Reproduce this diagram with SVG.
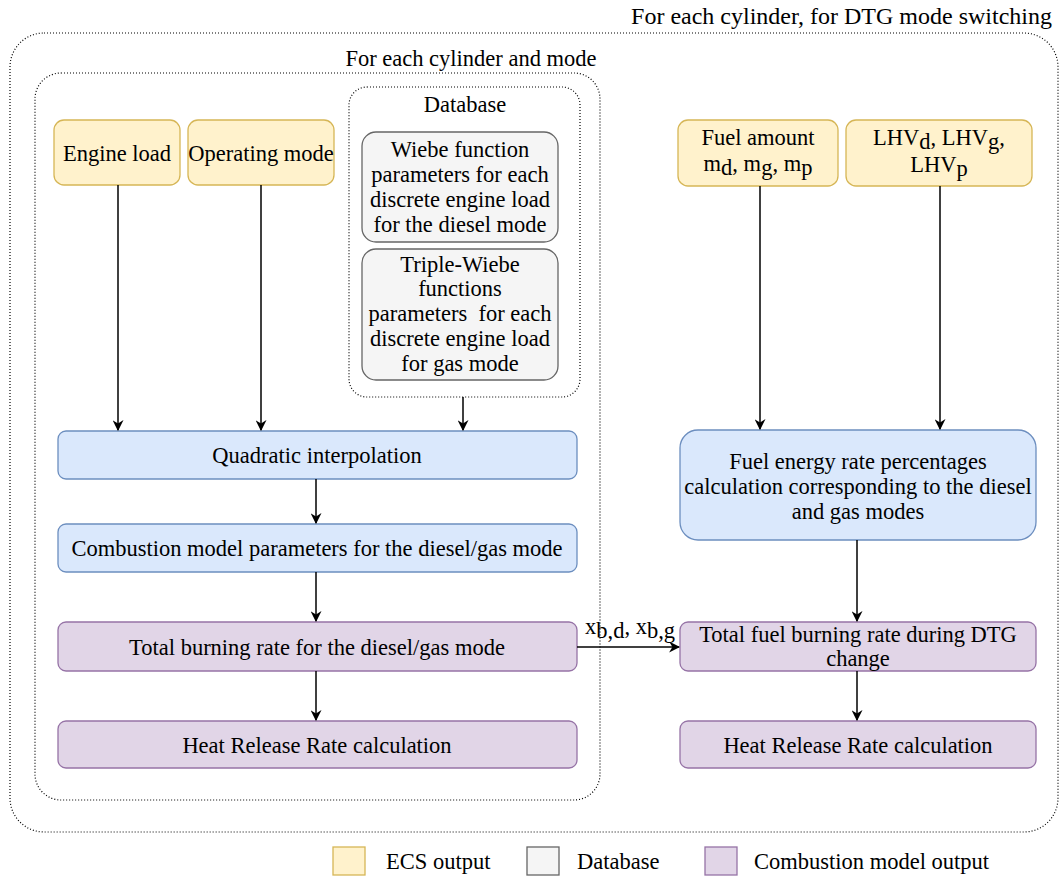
<svg xmlns="http://www.w3.org/2000/svg" width="1061" height="879" viewBox="0 0 1061 879">
  <style>
    text { font-family: "Liberation Serif", "Times New Roman", serif; font-size: 22.5px; fill: #000; }
    .c { text-anchor: middle; }
    .ecs { fill: #fff2cc; stroke: #d6b656; stroke-width: 1.3; }
    .db { fill: #f5f5f5; stroke: #666666; stroke-width: 1.3; }
    .proc { fill: #dae8fc; stroke: #6c8ebf; stroke-width: 1.3; }
    .comb { fill: #e1d5e7; stroke: #9673a6; stroke-width: 1.3; }
    .frame { fill: none; stroke: #000; stroke-width: 1.2; stroke-dasharray: 1 2; }
    .edge { fill: none; stroke: #000; stroke-width: 1.5; marker-end: url(#arrow); }
  </style>
  <defs>
    <marker id="arrow" viewBox="0 0 10 10" refX="9" refY="5" markerWidth="11" markerHeight="11" markerUnits="userSpaceOnUse" orient="auto">
      <path d="M0,0 L10,5 L0,10 L3,5 Z" fill="#000"/>
    </marker>
  </defs>

  <rect width="1061" height="879" fill="#fff"/>

  <!-- loop frames -->
  <g id="frame-dtg">
    <rect class="frame" x="10" y="33" width="1048" height="799" rx="34"/>
    <text x="1052" y="24" text-anchor="end" style="font-size:24px">For each cylinder, for DTG mode switching</text>
  </g>
  <g id="frame-mode">
    <rect class="frame" x="35" y="73" width="565" height="727" rx="26"/>
    <text x="471" y="66" class="c">For each cylinder and mode</text>
  </g>
  <g id="frame-database">
    <rect class="frame" x="349" y="87" width="231" height="310" rx="18"/>
    <text x="465" y="112" class="c">Database</text>
  </g>

  <!-- inputs -->
  <g id="engine-load">
    <rect class="ecs" x="54" y="120" width="126" height="65" rx="10"/>
    <text x="117" y="161" class="c">Engine load</text>
  </g>
  <g id="operating-mode">
    <rect class="ecs" x="188" y="120" width="146" height="65" rx="10"/>
    <text x="261" y="161" class="c">Operating mode</text>
  </g>
  <g id="wiebe-diesel">
    <rect class="db" x="362" y="132" width="196" height="110" rx="14"/>
    <text x="460" y="157" class="c">Wiebe function</text>
    <text x="460" y="182" class="c">parameters for each</text>
    <text x="460" y="207" class="c">discrete engine load</text>
    <text x="460" y="232" class="c">for the diesel mode</text>
  </g>
  <g id="wiebe-gas">
    <rect class="db" x="362" y="249" width="196" height="131" rx="14"/>
    <text x="460" y="272" class="c">Triple-Wiebe</text>
    <text x="460" y="296" class="c">functions</text>
    <text x="460" y="321" class="c" xml:space="preserve">parameters  for each</text>
    <text x="460" y="346" class="c">discrete engine load</text>
    <text x="460" y="371" class="c">for gas mode</text>
  </g>
  <g id="fuel-amount">
    <rect class="ecs" x="678" y="120" width="160" height="66" rx="10"/>
    <text x="758" y="145" class="c">Fuel amount</text>
    <text x="758" y="171" class="c">m<tspan dy="4">d</tspan><tspan dy="-4">, m</tspan><tspan dy="4">g</tspan><tspan dy="-4">, m</tspan><tspan dy="4">p</tspan></text>
  </g>
  <g id="lhv">
    <rect class="ecs" x="846" y="120" width="186" height="66" rx="10"/>
    <text x="939" y="145" class="c">LHV<tspan dy="4">d</tspan><tspan dy="-4">, LHV</tspan><tspan dy="4">g</tspan><tspan dy="-4">,</tspan></text>
    <text x="939" y="172" class="c">LHV<tspan dy="4">p</tspan></text>
  </g>

  <!-- per-mode chain -->
  <g id="quadratic-interpolation">
    <rect class="proc" x="58" y="431" width="519" height="48" rx="8"/>
    <text x="317" y="463" class="c">Quadratic interpolation</text>
  </g>
  <g id="combustion-parameters">
    <rect class="proc" x="58" y="524" width="519" height="48" rx="8"/>
    <text x="317" y="556" class="c">Combustion model parameters for the diesel/gas mode</text>
  </g>
  <g id="total-burning-rate">
    <rect class="comb" x="58" y="622" width="519" height="49" rx="8"/>
    <text x="317" y="655" class="c">Total burning rate for the diesel/gas mode</text>
  </g>
  <g id="heat-release-mode">
    <rect class="comb" x="58" y="721" width="519" height="47" rx="8"/>
    <text x="317" y="753" class="c">Heat Release Rate calculation</text>
  </g>

  <!-- DTG switching chain -->
  <g id="fuel-energy-rate">
    <rect class="proc" x="680" y="430" width="356" height="110" rx="18"/>
    <text x="858" y="469" class="c">Fuel energy rate percentages</text>
    <text x="858" y="494" class="c">calculation corresponding to the diesel</text>
    <text x="858" y="519" class="c">and gas modes</text>
  </g>
  <g id="total-fuel-burning-dtg">
    <rect class="comb" x="680" y="622" width="356" height="49" rx="8"/>
    <text x="858" y="642" class="c">Total fuel burning rate during DTG</text>
    <text x="858" y="666" class="c">change</text>
  </g>
  <g id="heat-release-dtg">
    <rect class="comb" x="680" y="721" width="356" height="47" rx="8"/>
    <text x="858" y="753" class="c">Heat Release Rate calculation</text>
  </g>

  <!-- connectors -->
  <g id="connectors">
    <path class="edge" d="M118,185 V430"/>
    <path class="edge" d="M261,185 V430"/>
    <path class="edge" d="M463,397 V430"/>
    <path class="edge" d="M316,479 V523"/>
    <path class="edge" d="M316,572 V621"/>
    <path class="edge" d="M316,671 V720"/>
    <path class="edge" d="M760,186 V429"/>
    <path class="edge" d="M940,186 V429"/>
    <path class="edge" d="M857,540 V621"/>
    <path class="edge" d="M857,671 V720"/>
    <path class="edge" d="M577,647 H679"/>
    <text x="585" y="634">x<tspan dy="4">b,d</tspan><tspan dy="-4">, x</tspan><tspan dy="4">b,g</tspan></text>
  </g>

  <!-- legend -->
  <g id="legend">
    <rect class="ecs" x="333" y="847" width="32" height="28"/>
    <text x="386" y="869">ECS output</text>
    <rect class="db" x="527" y="847" width="32" height="28"/>
    <text x="577" y="869">Database</text>
    <rect class="comb" x="705" y="847" width="32" height="28"/>
    <text x="754" y="869">Combustion model output</text>
  </g>
</svg>
